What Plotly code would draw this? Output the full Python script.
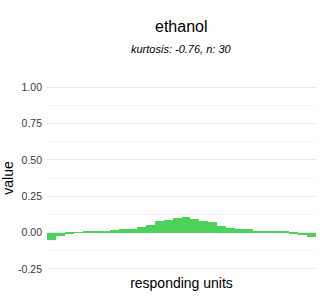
import plotly.graph_objects as go

units = list(range(1, 31))
values = [-0.053, -0.025, -0.012, 0.003, 0.007, 0.009, 0.014, 0.020, 0.021, 0.027,
          0.041, 0.055, 0.082, 0.089, 0.103, 0.110, 0.096, 0.082, 0.075, 0.048,
          0.034, 0.027, 0.021, 0.014, 0.014, 0.007, 0.005, -0.005, -0.020, -0.034]
title = "ethanol"
subtitle = "kurtosis: -0.76, n: 30"
yticks = [-0.25, 0.0, 0.25, 0.5, 0.75, 1.0]

fig = go.Figure(go.Bar(x=units, y=values, marker=dict(color="#4dd35b", line=dict(width=0)),
                       hoverinfo="skip"))

font = "Liberation Sans, Arial, sans-serif"
fig.update_layout(
    width=320, height=300,
    margin=dict(l=43, r=4, t=78, b=22),
    paper_bgcolor="white", plot_bgcolor="white",
    bargap=0, showlegend=False,
    font=dict(family=font, color="#222222"),
    xaxis=dict(range=[0.5, 30.5], showticklabels=False, showgrid=False, zeroline=False,
               ticks="", title=dict(text="responding units", font=dict(size=14, color="#000000"),
                                    standoff=0)),
    yaxis=dict(range=[-0.3125, 1.0625], tickvals=yticks,
               ticktext=[f"{v:.2f}" for v in yticks],
               tickfont=dict(size=10.5, color="#3a3a3a"),
               ticklabelstandoff=4,
               showgrid=True, gridcolor="#ebebeb", gridwidth=1, zeroline=False, ticks="",
               minor=dict(tickvals=[-0.125, 0.125, 0.375, 0.625, 0.875], showgrid=True,
                          gridcolor="#f5f5f5", gridwidth=1),
               title=dict(text="value", font=dict(size=14, color="#000000"), standoff=4)),
    annotations=[
        dict(text=title, x=0.5, y=26, xref="paper", yref="paper", showarrow=False,
             font=dict(size=16, color="#000000")),
        dict(text=f"<i>{subtitle}</i>", x=0.5, y=49, xref="paper", yref="paper",
             showarrow=False, font=dict(size=11, color="#000000")),
    ],
)
plot_h = 300 - 78 - 22
for ann in fig.layout.annotations:
    ann.y = 1 + (78 - ann.y) / plot_h
    ann.yanchor = "middle"

fig.write_html("out.html")
